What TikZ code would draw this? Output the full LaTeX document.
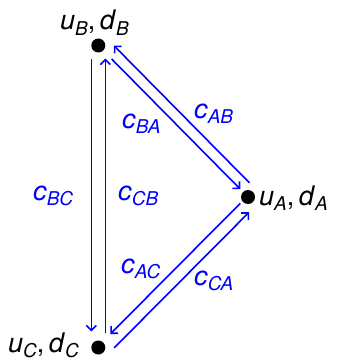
\documentclass[tikz,border=0pt]{standalone}
\usepackage{fontspec}
\setmainfont{TeX Gyre Heros}
\usetikzlibrary{arrows.meta,calc}

\newcommand{\vsub}[2]{\textit{#1}\raisebox{-5.5pt}{\fontsize{19}{21}\selectfont\textit{#2}}}
\newcommand{\ud}[1]{\vsub{u}{#1},\,\vsub{d}{#1}}

\tikzset{
  agent/.style={circle, fill=black, inner sep=0pt, minimum size=14pt},
  flow/.style={draw=blue, line width=1.6pt,
    -{Straight Barb[length=5pt,width=10pt]}},
  tag/.style={anchor=base west, inner sep=0pt},
  rate/.style={tag, text=blue},
}

\begin{document}
\begin{tikzpicture}[x=1pt, y=-1pt, font=\fontsize{27}{32}\selectfont]
    \useasboundingbox (0,0) rectangle (339,361);

    % Agents
    \node[agent] (B) at (98.3,45.5) {};
    \node[agent] (A) at (248,197) {};
    \node[agent] (C) at (98.3,347.5) {};

    % Agent labels
    \node[tag] (labB) at (60,30) {\ud{B}};
    \node[tag] (labA) at (259,205) {\ud{A}};
    \node[tag] (labC) at (8,352) {\ud{C}};

    % Flows, each offset to the right of its direction
    \draw[flow, shorten <=14pt, shorten >=16pt] ($(B)!7pt!-90:(C)$) -- ($(C)!7pt!90:(B)$);
    \draw[flow, shorten <=15pt, shorten >=13pt] ($(C)!7pt!-90:(B)$) -- ($(B)!7pt!90:(C)$);
    \draw[flow, shorten <=9pt, shorten >=11pt] ($(A)!11pt!-90:(B)$) -- ($(B)!11pt!90:(A)$);
    \draw[flow, shorten <=19pt, shorten >=11pt] ($(B)!0pt!-90:(A)$) -- ($(A)!0pt!90:(B)$);
    \draw[flow, shorten <=10pt, shorten >=18pt] ($(A)!1pt!-90:(C)$) -- ($(C)!1pt!90:(A)$);
    \draw[flow, shorten <=11pt, shorten >=10pt] ($(C)!11.5pt!-90:(A)$) -- ($(A)!11.5pt!90:(C)$);

    % Flow labels
    \node[rate] (cBC) at (33,200) {\vsub{c}{BC}};
    \node[rate] (cCB) at (118,200) {\vsub{c}{CB}};
    \node[rate] (cBA) at (122,128) {\vsub{c}{BA}};
    \node[rate] (cAB) at (194,118) {\vsub{c}{AB}};
    \node[rate] (cAC) at (121,273) {\vsub{c}{AC}};
    \node[rate] (cCA) at (194,285) {\vsub{c}{CA}};

\end{tikzpicture}
\end{document}
